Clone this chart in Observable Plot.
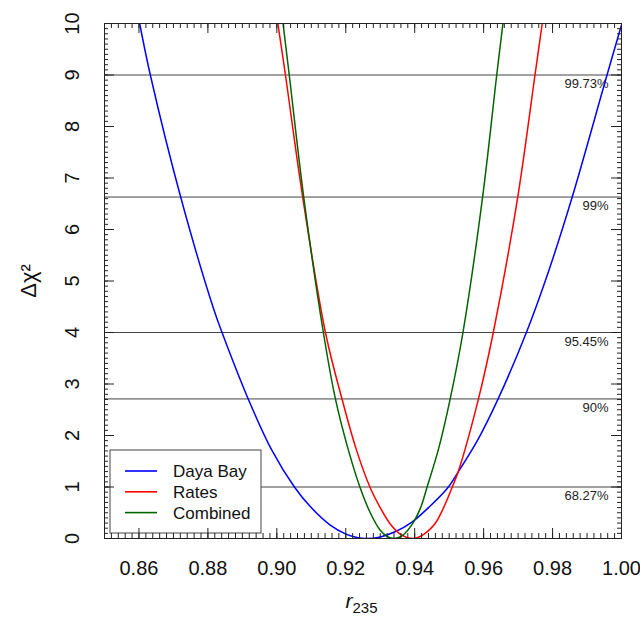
<!DOCTYPE html>
<html>
<head>
<meta charset="utf-8">
<script src="https://cdn.jsdelivr.net/npm/d3@7"></script>
<script src="https://cdn.jsdelivr.net/npm/@observablehq/plot@0.6"></script>
<style>
  body { margin: 0; background: #fff; }
  #chart { position: relative; width: 640px; height: 617px; }
  #chart svg { display: block; position: absolute; left: 0; top: 0; }
</style>
</head>
<body>
<div id="chart"></div>
<script>
// ---- data ----
const seriesNames = ["Daya Bay", "Rates", "Combined"];
const seriesColors = ["#0000ff", "#ff0000", "#006400"];

const dayaBayR    = [0.8602, 0.8633, 0.8721, 0.8817, 0.8841, 0.8917, 0.8985, 0.9051, 0.9097, 0.9155, 0.9199, 0.9232, 0.9260, 0.9300, 0.9343, 0.9392, 0.9440, 0.9493, 0.9526, 0.9585, 0.9642, 0.9724, 0.9790, 0.9857, 0.9958, 1.0000];
const dayaBayChi2 = [10.0,   9.0,    6.63,   4.45,   4.0,    2.71,   1.72,   1.0,    0.62,   0.26,   0.09,   0.02,   0.0,    0.03,   0.13,   0.32,   0.60,   0.96,   1.29,   1.94,   2.71,   4.0,    5.22,   6.63,   9.0,    9.97];

const ratesR      = [0.9003, 0.9025, 0.9075, 0.9141, 0.9189, 0.9230, 0.9270, 0.9299, 0.9328, 0.9357, 0.9395, 0.9424, 0.9459, 0.9488, 0.9509, 0.9526, 0.9585, 0.9628, 0.9699, 0.9749, 0.9770];
const ratesChi2   = [10.0,   9.0,    6.63,   4.0,    2.71,   1.74,   1.0,    0.61,   0.29,   0.09,   0.0,    0.07,   0.29,   0.66,   1.0,    1.29,   2.71,   4.0,    6.63,   9.0,    10.0];

const combinedR    = [0.9018, 0.9036, 0.9078, 0.9135, 0.9170, 0.9205, 0.9241, 0.9271, 0.9300, 0.9320, 0.9341, 0.9362, 0.9392, 0.9416, 0.9436, 0.9470, 0.9503, 0.9540, 0.9597, 0.9638, 0.9656];
const combinedChi2 = [10.0,   9.0,    6.63,   4.0,    2.71,   1.78,   1.0,    0.50,   0.16,   0.04,   0.0,    0.045,  0.27,   0.58,   1.0,    1.76,   2.71,   4.0,    6.63,   9.0,    10.0];

const clLevels = [1.0, 2.71, 4.0, 6.63, 9.0];
const clLabels = ["68.27%", "90%", "95.45%", "99%", "99.73%"];

const xTicks = [0.86, 0.88, 0.90, 0.92, 0.94, 0.96, 0.98, 1.00];
const xTickLabels = ["0.86", "0.88", "0.90", "0.92", "0.94", "0.96", "0.98", "1.00"];
const yTicks = [0, 1, 2, 3, 4, 5, 6, 7, 8, 9, 10];
const yTickLabels = ["0", "1", "2", "3", "4", "5", "6", "7", "8", "9", "10"];

const xDomain = [0.85, 1.0];
const yDomain = [0, 10];

// ---- tables built from the arrays ----
const seriesArrays = [[dayaBayR, dayaBayChi2], [ratesR, ratesChi2], [combinedR, combinedChi2]];
const rows = seriesArrays.flatMap(([rs, cs], k) => rs.map((r, i) => ({series: seriesNames[k], r, chi2: cs[i]})));
const clRows = clLevels.map((v, i) => ({v, label: clLabels[i]}));

const minorX = d3.range(0, 76).map(i => +(0.85 + i * 0.002).toFixed(3));
const minorY = d3.range(0, 101).map(i => +(i * 0.1).toFixed(1));

const font = "Liberation Sans, Arial, Helvetica, sans-serif";

const W = 640, H = 617, mL = 104, mR = 19, mT = 23, mB = 79;
const frameW = W - mL - mR, frameH = H - mT - mB;
const tickCol = "#222";

const xTickRules = (values, len) => [
  Plot.ruleX(values, {x: d => d, stroke: tickCol, strokeWidth: 1, insetTop: frameH - len}),
  Plot.ruleX(values, {x: d => d, stroke: tickCol, strokeWidth: 1, insetBottom: frameH - len})
];
const yTickRules = (values, len) => [
  Plot.ruleY(values, {y: d => d, stroke: tickCol, strokeWidth: 1, insetRight: frameW - len}),
  Plot.ruleY(values, {y: d => d, stroke: tickCol, strokeWidth: 1, insetLeft: frameW - len})
];

const common = {
  width: W, height: H,
  marginLeft: mL, marginRight: mR, marginTop: mT, marginBottom: mB,
  x: {domain: xDomain, axis: null},
  y: {domain: yDomain, axis: null}
};

// main chart: lines, curves and texts
const chart = Plot.plot({
  ...common,
  style: {fontFamily: font, background: "#fff"},
  color: {domain: seriesNames, range: seriesColors},
  marks: [
    Plot.ruleY(clRows, {y: "v", stroke: "#444", strokeWidth: 1}),
    Plot.text(clRows, {y: "v", text: "label", frameAnchor: "right", dx: -13, dy: 9, textAnchor: "end", lineAnchor: "middle", fontSize: 13, fill: "#222"}),
    Plot.line(rows, {x: "r", y: "chi2", z: "series", stroke: "series", strokeWidth: 1.5, curve: "catmull-rom", clip: true}),
    Plot.text(xTicks, {x: d => d, text: (d, i) => xTickLabels[i], frameAnchor: "bottom", dy: 30, lineAnchor: "middle", fontSize: 20, fill: "#111"}),
    Plot.text(yTicks, {y: d => d, text: (d, i) => yTickLabels[i], frameAnchor: "left", dx: -32, rotate: -90, lineAnchor: "middle", textAnchor: "middle", fontSize: 20, fill: "#111"}),
    Plot.text(["Δχ²"], {frameAnchor: "left", dx: -76, rotate: -90, lineAnchor: "middle", textAnchor: "middle", fontSize: 22, fill: "#111"})
  ]
});

const svg = d3.select(chart);
const sx = chart.scale("x"), sy = chart.scale("y");
const fx0 = sx.apply(xDomain[0]), fx1 = sx.apply(xDomain[1]);
const fy0 = sy.apply(yDomain[0]);

// x title: italic r with subscript 235
const xt = svg.append("text")
  .attr("x", (fx0 + fx1) / 2 - 17)
  .attr("y", 608)
  .attr("text-anchor", "start")
  .attr("font-family", font)
  .attr("fill", "#111");
xt.append("tspan").attr("font-style", "italic").attr("font-size", 21).text("r");
xt.append("tspan").attr("font-size", 15).attr("dy", 5).text("235");

// legend inside the plot area (bottom-left)
const lg = svg.append("g").attr("transform", `translate(${fx0 + 6},${fy0 - 88})`);
lg.append("rect").attr("width", 151).attr("height", 83).attr("fill", "#fff").attr("stroke", "#444").attr("stroke-width", 1);
seriesNames.forEach((name, i) => {
  const cy = 21 + i * 20.8;
  lg.append("line").attr("x1", 15).attr("x2", 47).attr("y1", cy).attr("y2", cy)
    .attr("stroke", seriesColors[i]).attr("stroke-width", 1.6);
  lg.append("text").attr("x", 63).attr("y", cy).attr("dy", "0.35em").attr("text-anchor", "start")
    .attr("font-family", font).attr("font-size", 17).attr("fill", "#111").text(name);
});

// overlay: frame and inward ticks on all four edges, same scales and margins
const ticks = Plot.plot({
  ...common,
  style: {background: "transparent"},
  marks: [
    ...xTickRules(minorX, 5),
    ...xTickRules(xTicks, 10),
    ...yTickRules(minorY, 4),
    ...yTickRules(yTicks, 10),
    Plot.frame({stroke: "#222", strokeWidth: 1})
  ]
});

const host = document.getElementById("chart");
host.appendChild(chart);
host.appendChild(ticks);
</script>
</body>
</html>
